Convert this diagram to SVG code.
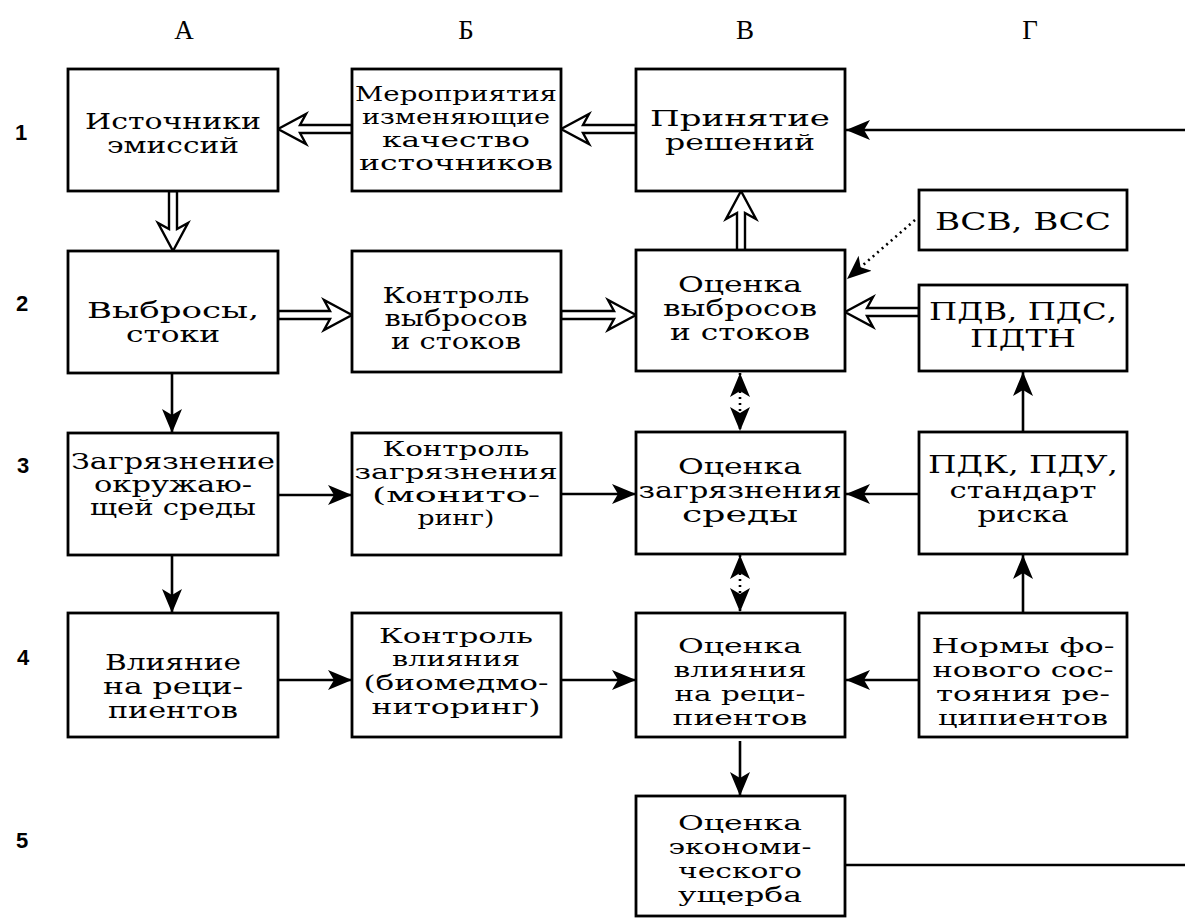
<svg xmlns="http://www.w3.org/2000/svg" width="1185" height="918" viewBox="0 0 1185 918">
<defs>
<marker id="ah" markerUnits="userSpaceOnUse" markerWidth="26" markerHeight="22" refX="24" refY="10" orient="auto-start-reverse" viewBox="0 0 26 22">
<path d="M0,0 L24,10 L0,20 L6,10 z" fill="#000"/>
</marker>
</defs>
<style>
.box{fill:#fff;stroke:#000;stroke-width:2.8}
.t{font-family:"DejaVu Serif","Liberation Serif",serif;font-size:22px;fill:#000;text-anchor:middle}
.t4{font-family:"DejaVu Serif","Liberation Serif",serif;font-size:20px;fill:#000;text-anchor:middle}
.tb{font-family:"DejaVu Serif","Liberation Serif",serif;font-size:24px;fill:#000;text-anchor:middle}
.hdr{font-family:"Liberation Serif","DejaVu Serif",serif;font-size:27px;fill:#000;text-anchor:middle}
.row{font-family:"Liberation Sans",Arial,sans-serif;font-size:22px;font-weight:bold;fill:#000;text-anchor:middle}
.ln{stroke:#000;stroke-width:2.6;fill:none}
.dot{stroke:#000;stroke-width:2.6;fill:none;stroke-dasharray:2 4}
.hol{fill:#fff;stroke:#000;stroke-width:2.4;stroke-linejoin:miter}
</style>
<rect width="1185" height="918" fill="#fff"/>
<g id="headers">
<text class="hdr" x="184" y="39">А</text>
<text class="hdr" x="466" y="39">Б</text>
<text class="hdr" x="745" y="39">В</text>
<text class="hdr" x="1030" y="39">Г</text>
<text class="row" x="21" y="140">1</text>
<text class="row" x="22" y="311">2</text>
<text class="row" x="23" y="473">3</text>
<text class="row" x="23" y="665">4</text>
<text class="row" x="22" y="848">5</text>
</g>
<g id="connectors">
<polygon class="hol" points="278,129 306,114 300,125 352,125 352,133 300,133 306,144"/>
<polygon class="hol" points="561,129 589,114 583,125 636,125 636,133 583,133 589,144"/>
<polygon class="hol" points="352,315 324,300 330,311 278,311 278,319 330,319 324,330"/>
<polygon class="hol" points="636,315 608,300 614,311 561,311 561,319 614,319 608,330"/>
<polygon class="hol" points="845,312 873,297 867,308 919,308 919,316 867,316 873,327"/>
<polygon class="hol" points="173,251 158,223 169,229 169,191 177,191 177,229 188,223"/>
<polygon class="hol" points="741,191 726,219 737,213 737,251 745,251 745,213 756,219"/>
<line class="ln" x1="1185" y1="130" x2="846" y2="130" marker-end="url(#ah)"/>
<line class="ln" x1="172" y1="373" x2="172" y2="433" marker-end="url(#ah)"/>
<line class="ln" x1="278" y1="495" x2="352" y2="495" marker-end="url(#ah)"/>
<line class="ln" x1="561" y1="494" x2="636" y2="494" marker-end="url(#ah)"/>
<line class="ln" x1="919" y1="494" x2="846" y2="494" marker-end="url(#ah)"/>
<line class="ln" x1="172" y1="555" x2="172" y2="613" marker-end="url(#ah)"/>
<line class="ln" x1="1023" y1="432" x2="1023" y2="372" marker-end="url(#ah)"/>
<line class="ln" x1="1023" y1="613" x2="1023" y2="555" marker-end="url(#ah)"/>
<line class="ln" x1="278" y1="680" x2="352" y2="680" marker-end="url(#ah)"/>
<line class="ln" x1="561" y1="680" x2="636" y2="680" marker-end="url(#ah)"/>
<line class="ln" x1="919" y1="680" x2="846" y2="680" marker-end="url(#ah)"/>
<line class="ln" x1="740" y1="741" x2="740" y2="796" marker-end="url(#ah)"/>
<line class="ln" x1="845" y1="865" x2="1185" y2="865"/>
<line class="dot" x1="915" y1="220" x2="847" y2="279" marker-end="url(#ah)"/>
<line class="dot" x1="740" y1="373" x2="740" y2="431" marker-start="url(#ah)" marker-end="url(#ah)"/>
<line class="dot" x1="740" y1="555" x2="740" y2="612" marker-start="url(#ah)" marker-end="url(#ah)"/>
</g>
<g id="n1A"><rect class="box" x="68" y="69" width="210" height="122"/>
<text class="t" x="173" y="129" textLength="176" lengthAdjust="spacingAndGlyphs">Источники</text>
<text class="t" x="173" y="153" textLength="132" lengthAdjust="spacingAndGlyphs">эмиссий</text></g>
<g id="n1B"><rect class="box" x="352" y="69" width="209" height="122"/>
<text class="t4" x="456" y="101" textLength="202" lengthAdjust="spacingAndGlyphs">Мероприятия</text>
<text class="t4" x="456" y="124" textLength="188" lengthAdjust="spacingAndGlyphs">изменяющие</text>
<text class="t4" x="456" y="147" textLength="148" lengthAdjust="spacingAndGlyphs">качество</text>
<text class="t4" x="456" y="170" textLength="194" lengthAdjust="spacingAndGlyphs">источников</text></g>
<g id="n1V"><rect class="box" x="636" y="69" width="209" height="122"/>
<text class="t" x="740" y="126" textLength="180" lengthAdjust="spacingAndGlyphs">Принятие</text>
<text class="t" x="740" y="150" textLength="150" lengthAdjust="spacingAndGlyphs">решений</text></g>
<g id="nVSV"><rect class="box" x="919" y="190" width="208" height="60"/>
<text class="tb" x="1023" y="230" textLength="176" lengthAdjust="spacingAndGlyphs">ВСВ, ВСС</text></g>
<g id="n2A"><rect class="box" x="68" y="251" width="210" height="122"/>
<text class="t" x="173" y="318" textLength="172" lengthAdjust="spacingAndGlyphs">Выбросы,</text>
<text class="t" x="173" y="342" textLength="94" lengthAdjust="spacingAndGlyphs">стоки</text></g>
<g id="n2B"><rect class="box" x="352" y="251" width="209" height="121"/>
<text class="t" x="456" y="303" textLength="147" lengthAdjust="spacingAndGlyphs">Контроль</text>
<text class="t" x="456" y="326" textLength="143" lengthAdjust="spacingAndGlyphs">выбросов</text>
<text class="t" x="456" y="349" textLength="130" lengthAdjust="spacingAndGlyphs">и стоков</text></g>
<g id="n2V"><rect class="box" x="636" y="250" width="209" height="121"/>
<text class="t" x="740" y="292" textLength="124" lengthAdjust="spacingAndGlyphs">Оценка</text>
<text class="t" x="740" y="316" textLength="154" lengthAdjust="spacingAndGlyphs">выбросов</text>
<text class="t" x="740" y="340" textLength="140" lengthAdjust="spacingAndGlyphs">и стоков</text></g>
<g id="nPDV"><rect class="box" x="919" y="285" width="208" height="86"/>
<text class="tb" x="1023" y="320" textLength="188" lengthAdjust="spacingAndGlyphs">ПДВ, ПДС,</text>
<text class="tb" x="1023" y="347" textLength="106" lengthAdjust="spacingAndGlyphs">ПДТН</text></g>
<g id="n3A"><rect class="box" x="68" y="433" width="210" height="122"/>
<text class="t" x="173" y="469" textLength="204" lengthAdjust="spacingAndGlyphs">Загрязнение</text>
<text class="t" x="173" y="492" textLength="158" lengthAdjust="spacingAndGlyphs">окружаю-</text>
<text class="t" x="173" y="515" textLength="166" lengthAdjust="spacingAndGlyphs">щей среды</text></g>
<g id="n3B"><rect class="box" x="352" y="433" width="209" height="122"/>
<text class="t4" x="456" y="456" textLength="147" lengthAdjust="spacingAndGlyphs">Контроль</text>
<text class="t4" x="456" y="479" textLength="203" lengthAdjust="spacingAndGlyphs">загрязнения</text>
<text class="t4" x="456" y="502" textLength="168" lengthAdjust="spacingAndGlyphs">(монито-</text>
<text class="t4" x="456" y="525" textLength="77" lengthAdjust="spacingAndGlyphs">ринг)</text></g>
<g id="n3V"><rect class="box" x="636" y="432" width="209" height="122"/>
<text class="t" x="740" y="474" textLength="124" lengthAdjust="spacingAndGlyphs">Оценка</text>
<text class="t" x="740" y="498" textLength="203" lengthAdjust="spacingAndGlyphs">загрязнения</text>
<text class="t" x="740" y="522" textLength="116" lengthAdjust="spacingAndGlyphs">среды</text></g>
<g id="n3G"><rect class="box" x="919" y="432" width="208" height="122"/>
<text class="tb" x="1023" y="473" textLength="190" lengthAdjust="spacingAndGlyphs">ПДК, ПДУ,</text>
<text class="t" x="1023" y="498" textLength="147" lengthAdjust="spacingAndGlyphs">стандарт</text>
<text class="t" x="1023" y="522" textLength="91" lengthAdjust="spacingAndGlyphs">риска</text></g>
<g id="n4A"><rect class="box" x="68" y="613" width="210" height="124"/>
<text class="t" x="173" y="670" textLength="136" lengthAdjust="spacingAndGlyphs">Влияние</text>
<text class="t" x="173" y="694" textLength="140" lengthAdjust="spacingAndGlyphs">на реци-</text>
<text class="t" x="173" y="718" textLength="130" lengthAdjust="spacingAndGlyphs">пиентов</text></g>
<g id="n4B"><rect class="box" x="352" y="613" width="209" height="124"/>
<text class="t4" x="456" y="643" textLength="154" lengthAdjust="spacingAndGlyphs">Контроль</text>
<text class="t4" x="456" y="666" textLength="128" lengthAdjust="spacingAndGlyphs">влияния</text>
<text class="t4" x="456" y="690" textLength="185" lengthAdjust="spacingAndGlyphs">(биомедмо-</text>
<text class="t4" x="456" y="714" textLength="169" lengthAdjust="spacingAndGlyphs">ниторинг)</text></g>
<g id="n4V"><rect class="box" x="636" y="613" width="209" height="124"/>
<text class="t4" x="740" y="653" textLength="124" lengthAdjust="spacingAndGlyphs">Оценка</text>
<text class="t4" x="740" y="677" textLength="133" lengthAdjust="spacingAndGlyphs">влияния</text>
<text class="t4" x="740" y="701" textLength="131" lengthAdjust="spacingAndGlyphs">на реци-</text>
<text class="t4" x="740" y="725" textLength="135" lengthAdjust="spacingAndGlyphs">пиентов</text></g>
<g id="n4G"><rect class="box" x="919" y="613" width="208" height="124"/>
<text class="t4" x="1023" y="653" textLength="183" lengthAdjust="spacingAndGlyphs">Нормы фо-</text>
<text class="t4" x="1023" y="677" textLength="181" lengthAdjust="spacingAndGlyphs">нового сос-</text>
<text class="t4" x="1023" y="701" textLength="174" lengthAdjust="spacingAndGlyphs">тояния ре-</text>
<text class="t4" x="1023" y="725" textLength="170" lengthAdjust="spacingAndGlyphs">ципиентов</text></g>
<g id="n5V"><rect class="box" x="636" y="796" width="209" height="120"/>
<text class="t4" x="740" y="830" textLength="124" lengthAdjust="spacingAndGlyphs">Оценка</text>
<text class="t4" x="740" y="854" textLength="143" lengthAdjust="spacingAndGlyphs">экономи-</text>
<text class="t4" x="740" y="878" textLength="124" lengthAdjust="spacingAndGlyphs">ческого</text>
<text class="t4" x="740" y="902" textLength="124" lengthAdjust="spacingAndGlyphs">ущерба</text></g>
</svg>
